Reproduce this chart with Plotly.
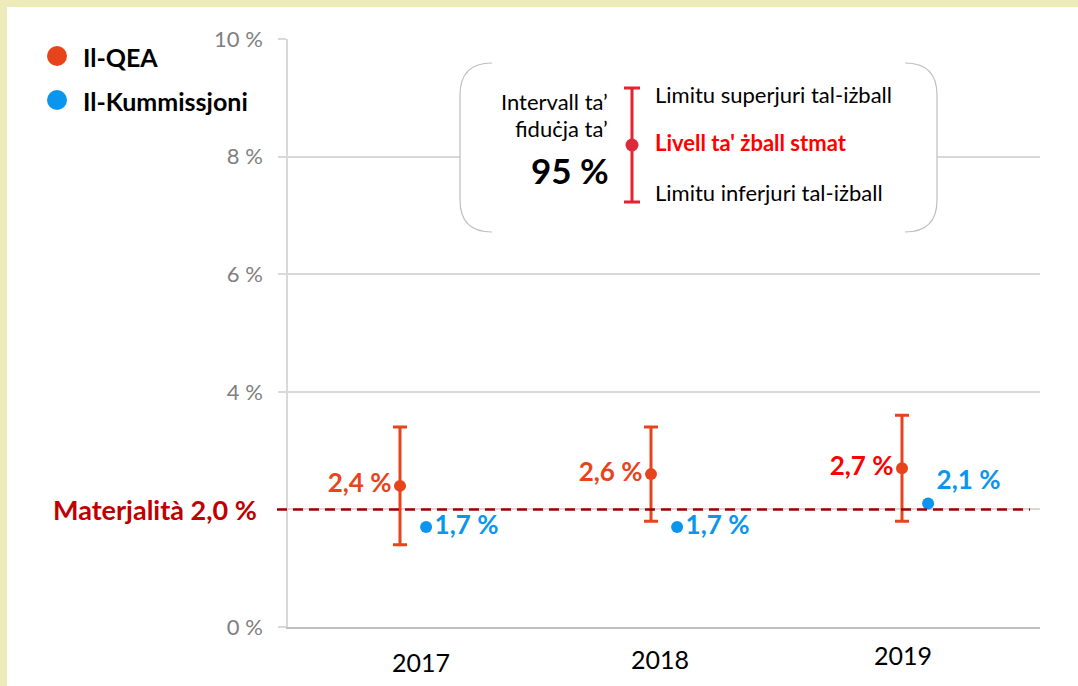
import plotly.graph_objects as go

# ---------------- data ----------------
years = ["2017", "2018", "2019"]
qea_rate = [2.4, 2.6, 2.7]
qea_upper = [3.4, 3.4, 3.6]
qea_lower = [1.4, 1.8, 1.8]
com_rate = [1.7, 1.7, 2.1]
materiality = 2.0
qea_labels = ["2,4 %", "2,6 %", "2,7 %"]
com_labels = ["1,7 %", "1,7 %", "2,1 %"]
y_tick_vals = [0, 2, 4, 6, 8, 10]
y_tick_text = ["0 %", "", "4 %", "6 %", "8 %", "10 %"]

# ---------------- styles ----------------
FONT = "Lato, 'Open Sans', sans-serif"
ORANGE = "#E8441B"
RED = "#FF0000"
BLUE = "#0A96EE"
DARKRED = "#C00000"
DASHRED = "#A00000"
GRID = "#D9D9D9"
BORDER = "#EDEBBA"

W, H = 1078, 686
L, R, T, B = 288, 1040, 39, 627   # plot area in pixels


def fx(px):
    return (px - L) / (R - L)


def fy(py):
    return (B - py) / (B - T)


x_qea = list(range(len(years)))
com_offset = 0.104
x_com = [i + com_offset for i in x_qea]

err_plus = [u - v for u, v in zip(qea_upper, qea_rate)]
err_minus = [v - l for v, l in zip(qea_rate, qea_lower)]

fig = go.Figure()

fig.add_trace(go.Scatter(
    x=x_qea, y=qea_rate, name="Il-QEA", mode="markers+text",
    marker=dict(color=ORANGE, size=12),
    error_y=dict(type="data", array=err_plus, arrayminus=err_minus,
                 color=ORANGE, thickness=3, width=7),
    text=qea_labels, textposition="middle left",
    textfont=dict(family=FONT, size=26, color=[ORANGE, ORANGE, RED], weight="bold"),
    showlegend=False, hoverinfo="skip",
))

fig.add_trace(go.Scatter(
    x=x_com, y=com_rate, name="Il-Kummissjoni", mode="markers+text",
    marker=dict(color=BLUE, size=12),
    text=com_labels, textposition=["middle right", "middle right", "top right"],
    textfont=dict(family=FONT, size=26, color=BLUE, weight="bold"),
    showlegend=False, hoverinfo="skip",
))

shapes = []
annotations = []

# yellow frame on the left and top edges
shapes.append(dict(type="rect", xref="paper", yref="paper", layer="below",
                   x0=fx(-5), x1=fx(7), y0=fy(H + 5), y1=fy(-5),
                   fillcolor=BORDER, line=dict(width=0)))
shapes.append(dict(type="rect", xref="paper", yref="paper", layer="below",
                   x0=fx(-5), x1=fx(W + 5), y0=fy(7), y1=fy(-5),
                   fillcolor=BORDER, line=dict(width=0)))

# materiality line
shapes.append(dict(type="line", xref="paper", yref="y",
                   x0=fx(277), x1=fx(1030), y0=materiality, y1=materiality,
                   line=dict(color=DASHRED, width=2.5, dash="10px,6px")))
annotations.append(dict(xref="paper", yref="y", x=fx(259), y=materiality,
                        xanchor="right", yanchor="middle", showarrow=False,
                        text="<b>Materjalità 2,0 %</b>",
                        font=dict(family=FONT, size=27, color=DARKRED)))

# year labels
year_x = [0.084, 1.036, 2.004]
year_y = [662, 659, 655]
for yr, xv, yp in zip(years, year_x, year_y):
    annotations.append(dict(xref="x", yref="paper", x=xv, y=fy(yp),
                            xanchor="center", yanchor="middle", showarrow=False,
                            text=yr, font=dict(family=FONT, size=25, color="black")))

# manual legend
for cy, col, name in [(56, ORANGE, "Il-QEA"), (100, BLUE, "Il-Kummissjoni")]:
    shapes.append(dict(type="circle", xref="paper", yref="paper",
                       x0=fx(47), x1=fx(67), y0=fy(cy + 10), y1=fy(cy - 10),
                       fillcolor=col, line=dict(width=0)))
    annotations.append(dict(xref="paper", yref="paper", x=fx(81), y=fy(cy + 1),
                            xanchor="left", yanchor="middle", showarrow=False,
                            text=f"<b>{name}</b>",
                            font=dict(family=FONT, size=25, color="black")))

# inset explanation box
bx0, bx1, by0, by1, rr = 460, 937, 63, 232, 32
shapes.append(dict(type="rect", xref="paper", yref="paper", layer="above",
                   x0=fx(bx0), x1=fx(bx1), y0=fy(by1), y1=fy(by0),
                   fillcolor="white", line=dict(width=0)))
left_path = (f"M {fx(bx0 + rr)},{fy(by0)} Q {fx(bx0)},{fy(by0)} {fx(bx0)},{fy(by0 + rr)} "
             f"L {fx(bx0)},{fy(by1 - rr)} Q {fx(bx0)},{fy(by1)} {fx(bx0 + rr)},{fy(by1)}")
right_path = (f"M {fx(bx1 - rr)},{fy(by0)} Q {fx(bx1)},{fy(by0)} {fx(bx1)},{fy(by0 + rr)} "
              f"L {fx(bx1)},{fy(by1 - rr)} Q {fx(bx1)},{fy(by1)} {fx(bx1 - rr)},{fy(by1)}")
for p in (left_path, right_path):
    shapes.append(dict(type="path", xref="paper", yref="paper", layer="above",
                       path=p, line=dict(color="#BFBFBF", width=1.2)))

# legend error bar inside box
KRED = "#E8202F"
shapes.append(dict(type="line", xref="paper", yref="paper", layer="above",
                   x0=fx(632), x1=fx(632), y0=fy(88), y1=fy(202),
                   line=dict(color=KRED, width=3)))
for cyp in (88, 202):
    shapes.append(dict(type="line", xref="paper", yref="paper", layer="above",
                       x0=fx(624), x1=fx(640), y0=fy(cyp), y1=fy(cyp),
                       line=dict(color=KRED, width=3)))
shapes.append(dict(type="circle", xref="paper", yref="paper", layer="above",
                   x0=fx(625.5), x1=fx(638.5), y0=fy(151.5), y1=fy(138.5),
                   fillcolor="#DC2A3A", line=dict(width=0)))

box_texts = [
    (610, 102, "right", "Intervall ta’", 22, "black"),
    (610, 128, "right", "fiduċja ta’", 22, "black"),
    (611, 170, "right", "<b>95 %</b>", 35, "black"),
    (653, 94, "left", "Limitu superjuri tal-iżball", 22, "black"),
    (653, 142, "left", "<b>Livell ta' żball stmat</b>", 22, RED),
    (653, 193, "left", "Limitu inferjuri tal-iżball", 22, "black"),
]
for px, py, anc, txt, sz, col in box_texts:
    annotations.append(dict(xref="paper", yref="paper", x=fx(px), y=fy(py),
                            xanchor=anc, yanchor="middle", showarrow=False,
                            text=txt, font=dict(family=FONT, size=sz, color=col)))

fig.update_layout(
    width=W, height=H,
    margin=dict(l=L, r=W - R, t=T, b=H - B, pad=0),
    paper_bgcolor="white", plot_bgcolor="white",
    font=dict(family=FONT),
    showlegend=False,
    shapes=shapes, annotations=annotations,
    xaxis=dict(range=[(L - 400) / 251, (R - 400) / 251], showgrid=False,
               zeroline=False, showticklabels=False, ticks="",
               showline=True, linecolor="#BFBFBF", linewidth=2, fixedrange=True),
    yaxis=dict(range=[0, 10], tickvals=y_tick_vals, ticktext=y_tick_text,
               showgrid=True, gridcolor=GRID, gridwidth=1.5, zeroline=False,
               showline=True, linecolor=GRID, linewidth=1.5,
               ticks="outside", ticklen=8, tickcolor=GRID, tickwidth=1.5,
               ticklabelstandoff=11,
               tickfont=dict(family=FONT, size=22, color="#7F7F7F"),
               fixedrange=True),
)

fig.write_html("out.html", config={"displayModeBar": False},
               post_script="document.body.style.margin='0';document.body.style.overflow='hidden';")
